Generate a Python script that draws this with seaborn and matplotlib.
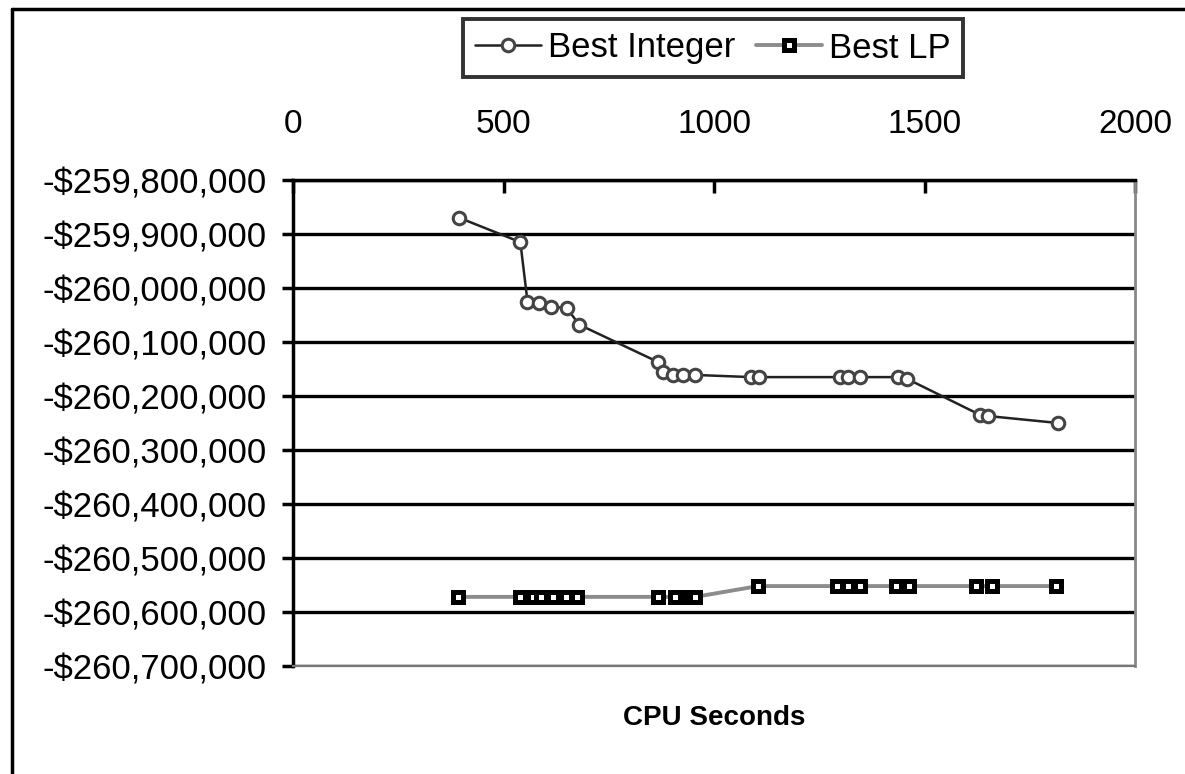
import numpy as np
import pandas as pd
import matplotlib
matplotlib.use("Agg")
import matplotlib.pyplot as plt
from matplotlib.lines import Line2D
from matplotlib.ticker import FuncFormatter, MultipleLocator
import seaborn as sns

# values
int_secs = [395, 540, 557, 585, 613, 650, 680, 867, 880, 903, 927, 955,
            1088, 1108, 1299, 1318, 1347, 1438, 1458, 1632, 1650, 1817]
int_obj = [-259870000, -259915000, -260025000, -260028000, -260035000,
           -260037000, -260068000, -260137000, -260155000, -260161000,
           -260161000, -260161000, -260165000, -260165000, -260165000,
           -260165000, -260165000, -260165000, -260168000, -260235000,
           -260237000, -260250000]

lp_secs = [392, 539, 570, 589, 618, 648, 675, 867, 907, 943, 955,
           1105, 1293, 1318, 1347, 1432, 1463, 1622, 1660, 1813]
lp_obj = [-260572000] * 11 + [-260552000] * 9

x_ticks = [0, 500, 1000, 1500, 2000]

sns.set_style("white")
plt.rcParams['font.family'] = ['Liberation Sans', 'DejaVu Sans']
plt.rcParams['text.color'] = 'black'

fig = plt.figure(figsize=(11.85, 7.74), dpi=100)
ax = fig.add_axes([293 / 1185, 1 - 666 / 774, (1135 - 293) / 1185, (666 - 180) / 774])

sns.lineplot(x=int_secs, y=int_obj, ax=ax, color="#222222", lw=1.8,
             marker="o", ms=9, mfc="white", mec="#444444", mew=2.2,
             label="Best Integer", legend=False, sort=False)
sns.lineplot(x=lp_secs, y=lp_obj, ax=ax, color="#8c8c8c", lw=2.8,
             marker="s", ms=6.5, mfc="white", mec="black", mew=3.6,
             label="Best LP", legend=False, sort=False)

ax.set_xlim(0, 2000)
ax.set_ylim(-260700000, -259800000)
ax.set_xticks(x_ticks)
ax.yaxis.set_major_locator(MultipleLocator(100000))
ax.yaxis.set_major_formatter(FuncFormatter(lambda v, p: f"-${abs(v):,.0f}"))

ax.xaxis.tick_top()
ax.xaxis.set_label_position("bottom")
ax.tick_params(axis="x", direction="in", length=9, width=2.5, pad=29,
               labelsize=24, colors="black")
ax.tick_params(axis="y", direction="out", length=8, width=2.5, pad=11,
               labelsize=25, left=True, colors="black")
ax.set_xlabel("CPU Seconds", fontsize=20, fontweight="bold", labelpad=28,
              color="black")
ax.set_ylabel("")

ax.grid(axis="y", color="black", lw=2.4)
ax.grid(axis="x", visible=False)
for g in ax.get_ygridlines():
    if abs(g.get_ydata()[0] + 260700000) < 1:
        g.set_visible(False)

for side in ["top", "left"]:
    ax.spines[side].set_color("black")
    ax.spines[side].set_linewidth(2.5)
ax.spines["bottom"].set_color("#777777")
ax.spines["bottom"].set_linewidth(1.6)
ax.spines["right"].set_color("#888888")
ax.spines["right"].set_linewidth(2)

handles, labels = ax.get_legend_handles_labels()
leg = fig.legend(handles, labels, loc="center", ncol=2,
                 bbox_to_anchor=(713 / 1185, 1 - 48 / 774),
                 fontsize=25, frameon=True, fancybox=False,
                 handlelength=1.9, handletextpad=0.2, columnspacing=0.6,
                 borderpad=0.35)
leg.get_frame().set_edgecolor("black")
leg.get_frame().set_linewidth(2.8)
for t in leg.get_texts():
    t.set_color("black")

# outer chart border (top and left visible in the reference)
fig.add_artist(Line2D([12 / 1185, 12 / 1185], [0, 1 - 9 / 774],
                      color="black", lw=2.5, transform=fig.transFigure))
fig.add_artist(Line2D([12 / 1185, 1], [1 - 9 / 774, 1 - 9 / 774],
                      color="black", lw=2.5, transform=fig.transFigure))

fig.savefig("out.png", dpi=100, facecolor="white")
